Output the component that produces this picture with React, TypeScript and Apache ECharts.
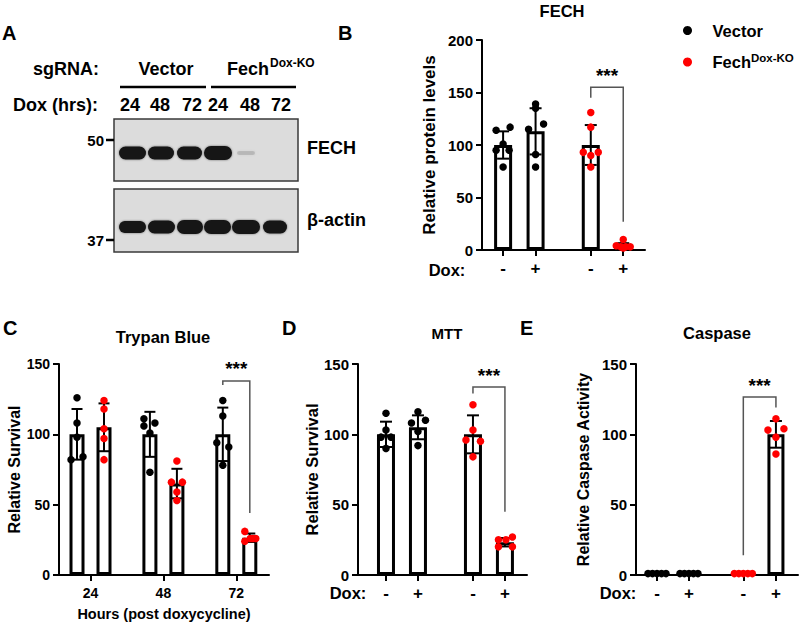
import React, { useEffect, useRef } from 'react';
import * as echarts from 'echarts';

const FONT = '"Liberation Sans", Arial, Helvetica, sans-serif';
const RED = '#ff0000';

// ---------- Panel A (western blot) ----------
const blotLaneLabels = ['24', '48', '72', '24', '48', '72'];
const fechBandIntensity = [1, 1, 1, 1, 0.12, 0];
const actinBandIntensity = [1, 1, 1, 1, 1, 1];

// ---------- Panel B (FECH) ----------
const bPositions = [1, 2, 3.7, 4.7];
const bTickLabels = ['-', '+', '-', '+'];
const bGroups = ['Vector', 'Vector', 'Fech', 'Fech'];
const bMeans = [100, 113, 100, 4];
const bSds = [13, 22, 19, 2.5];
const bPoints = [
  [114, 117, 101, 95, 95, 79],
  [139, 135, 120, 115, 91, 79],
  [131, 117, 93, 93, 90, 79],
  [10, 4, 3, 3, 3, 2],
];
const bJitter = [
  [-7, 7, 0, -7, 6, 0],
  [0, 0, 8, -7, 0, 0],
  [0, 0, -7.5, 7.5, 0, 0],
  [0, -7, -2.5, 2.5, 7, 0],
];

// ---------- Panel C (Trypan Blue) ----------
const cPositions = [1, 2, 3.7, 4.7, 6.4, 7.4];
const cTickValues = [1.5, 4.2, 6.9];
const cTickLabels = ['24', '48', '72'];
const cGroups = ['Vector', 'Fech', 'Vector', 'Fech', 'Vector', 'Fech'];
const cMeans = [100, 105, 100, 65, 100, 26.5];
const cSds = [18, 17, 16, 10.5, 19, 3];
const cPoints = [
  [126, 108, 98, 82, 84],
  [124, 118, 104, 97, 82],
  [111, 108, 106, 101, 73],
  [81, 66, 66, 59, 53],
  [124, 113, 94, 91, 78],
  [31, 24, 26, 26, 26],
];
const cJitter = [
  [0, 0, 0, -6, 6],
  [0, 0, 0, 0, 0],
  [-6, 5, -6, 0, 0],
  [0, -5.5, 5.5, 0, 0],
  [0, 0, -6, 6, 0],
  [-5, -5, 0.5, 6, 3],
];

// ---------- Panel D (MTT) ----------
const dPositions = [1, 2, 3.72, 4.72];
const dTickLabels = ['-', '+', '-', '+'];
const dGroups = ['Vector', 'Vector', 'Fech', 'Fech'];
const dMeans = [100, 105, 100, 23.3];
const dSds = [9, 8.5, 13.5, 3];
const dPoints = [
  [115, 103, 98, 98, 90],
  [116, 108, 110, 102, 92],
  [121, 103, 96, 95, 84],
  [25, 25, 27, 20, 20],
];
const dJitter = [
  [0, 0, -5, 5, 0],
  [0, -6.5, 7.5, 0, 0],
  [0, 0, -7, 7.5, 0],
  [-6.5, 1, 7.5, -6.5, 7.5],
];

// ---------- Panel E (Caspase) ----------
const ePositions = [1, 2, 3.7, 4.72];
const eTickLabels = ['-', '+', '-', '+'];
const eGroups = ['Vector', 'Vector', 'Fech', 'Fech'];
const eMeans = [1, 1, 1, 100];
const eSds = [0, 0, 0, 9.5];
const ePoints = [
  [1, 1, 1, 1, 1],
  [1, 1, 1, 1, 1],
  [1, 1, 1, 1, 1],
  [111, 103, 104, 98, 86],
];
const eJitter = [
  [-9, -4.5, 0, 4.5, 9],
  [-9, -4.5, 0, 4.5, 9],
  [-9, -4.5, 0, 4.5, 9],
  [0, -8, 8, 0, 0],
];

// Significance brackets: [x1, x2, yTop, yLeftEnd, yRightEnd, yText]
const bBracket = [3.7, 4.7, 155, 145, 27, 166];
const cBracket = [6.4, 7.4, 138, 135, 44, 147];
const dBracket = [3.72, 4.72, 133.6, 129, 45, 142];
const eBracket = [3.7, 4.72, 126.5, 14, 119, 135];

const panels = [
  {
    grid: { left: 482, top: 40, width: 163, height: 210 },
    xMin: 0.35, xMax: 5.37, yMax: 200,
    positions: bPositions, tickValues: bPositions, tickLabels: bTickLabels,
    groups: bGroups, means: bMeans, sds: bSds, points: bPoints, jitter: bJitter,
    yName: 'Relative protein levels', yNameGap: 44, yNameSize: 17,
    barWidth: 18, cap: 6, bracket: bBracket, xLabelSize: 17, xLabelMargin: 10,
    yLabelSize: 15,
  },
  {
    grid: { left: 59, top: 364, width: 210, height: 211 },
    xMin: 0.333, xMax: 8.111, yMax: 150,
    positions: cPositions, tickValues: cTickValues, tickLabels: cTickLabels,
    groups: cGroups, means: cMeans, sds: cSds, points: cPoints, jitter: cJitter,
    yName: 'Relative Survival', yNameGap: 36, yNameSize: 16,
    barWidth: 15, cap: 5.5, bracket: cBracket, xLabelSize: 14, xLabelMargin: 11,
    xName: 'Hours (post doxycycline)', yLabelSize: 14,
  },
  {
    grid: { left: 358, top: 364, width: 169, height: 211 },
    xMin: 0.125, xMax: 5.41, yMax: 150,
    positions: dPositions, tickValues: dPositions, tickLabels: dTickLabels,
    groups: dGroups, means: dMeans, sds: dSds, points: dPoints, jitter: dJitter,
    yName: 'Relative Survival', yNameGap: 38, yNameSize: 16.5,
    barWidth: 18, cap: 6, bracket: dBracket, xLabelSize: 17, xLabelMargin: 10,
    yLabelSize: 15,
  },
  {
    grid: { left: 636, top: 364, width: 162, height: 211 },
    xMin: 0.344, xMax: 5.41, yMax: 150,
    positions: ePositions, tickValues: ePositions, tickLabels: eTickLabels,
    groups: eGroups, means: eMeans, sds: eSds, points: ePoints, jitter: eJitter,
    yName: 'Relative Caspase Activity', yNameGap: 45, yNameSize: 16,
    barWidth: 17, cap: 6, bracket: eBracket, xLabelSize: 17, xLabelMargin: 10,
    yLabelSize: 15,
  },
];

const txt = (text: string, x: number, y: number, size: number, align = 'left', extra: any = {}) => ({
  type: 'text',
  x,
  y,
  z: 10,
  style: {
    text,
    fontSize: size,
    fontWeight: 'bold',
    fontFamily: FONT,
    fill: '#000',
    align,
    verticalAlign: 'middle',
    ...extra,
  },
});

function blotGraphics() {
  const g: any[] = [];
  const laneX = [130, 160, 192, 218, 250, 281];
  g.push(txt('sgRNA:', 33, 69, 18));
  g.push(txt('Vector', 166, 69, 18, 'center'));
  g.push(txt('Fech', 227, 69, 18));
  g.push(txt('Dox-KO', 270, 63, 12));
  g.push({ type: 'line', shape: { x1: 120, y1: 87, x2: 206, y2: 87 }, style: { stroke: '#000', lineWidth: 2.5 } });
  g.push({ type: 'line', shape: { x1: 211, y1: 87, x2: 296, y2: 87 }, style: { stroke: '#000', lineWidth: 2.5 } });
  g.push(txt('Dox (hrs):', 13, 105, 18));
  blotLaneLabels.forEach((l, i) => g.push(txt(l, laneX[i], 105, 18, 'center')));

  // blot boxes
  g.push({ type: 'rect', shape: { x: 114, y: 119, width: 184, height: 62 }, style: { fill: '#dcdcdc', stroke: '#3a3a3a', lineWidth: 1.5 } });
  g.push({ type: 'rect', shape: { x: 114, y: 189, width: 184, height: 63 }, style: { fill: '#dcdcdc', stroke: '#3a3a3a', lineWidth: 1.5 } });

  const fechCx = [132.5, 161, 189.5, 218, 246, 275];
  const fechW = [27, 26, 25, 28, 18, 18];
  const fechH = [13, 13, 13, 14, 4, 4];
  fechBandIntensity.forEach((v, i) => {
    if (v <= 0) return;
    g.push({
      type: 'rect',
      shape: { x: fechCx[i] - fechW[i] / 2, y: 153 - fechH[i] / 2, width: fechW[i], height: fechH[i], r: fechH[i] / 2 },
      style: { fill: '#141414', opacity: v, shadowBlur: 2, shadowColor: 'rgba(0,0,0,0.5)' },
    });
  });
  const actCx = [132.5, 161.5, 190, 217.5, 246, 275];
  const actW = [27, 27, 26, 27, 28, 24];
  const actH = [12, 13, 14, 14, 14, 13];
  actinBandIntensity.forEach((v, i) => {
    if (v <= 0) return;
    g.push({
      type: 'rect',
      shape: { x: actCx[i] - actW[i] / 2, y: 227 - actH[i] / 2, width: actW[i], height: actH[i], r: actH[i] / 2 },
      style: { fill: '#141414', opacity: v, shadowBlur: 2, shadowColor: 'rgba(0,0,0,0.5)' },
    });
  });
  // markers
  g.push(txt('50', 104, 140, 15, 'right'));
  g.push({ type: 'line', shape: { x1: 106, y1: 140, x2: 114, y2: 140 }, style: { stroke: '#000', lineWidth: 2.5 } });
  g.push(txt('37', 104, 240, 15, 'right'));
  g.push({ type: 'line', shape: { x1: 106, y1: 240, x2: 114, y2: 240 }, style: { stroke: '#000', lineWidth: 2.5 } });
  g.push(txt('FECH', 307, 148, 18));
  g.push(txt('β-actin', 307, 220, 18));
  return g;
}

function buildOption() {
  const grid: any[] = [];
  const xAxis: any[] = [];
  const yAxis: any[] = [];
  const series: any[] = [];

  panels.forEach((p, i) => {
    grid.push({ ...p.grid, containLabel: false });
    const unitPx = p.grid.width / (p.xMax - p.xMin);
    xAxis.push({
      type: 'value',
      gridIndex: i,
      min: p.xMin,
      max: p.xMax,
      axisLine: { show: true, onZero: false, lineStyle: { color: '#000', width: 2 } },
      axisTick: { show: true, customValues: p.tickValues, length: 6, lineStyle: { color: '#000', width: 2 } },
      axisLabel: {
        show: true,
        customValues: p.tickValues,
        margin: p.xLabelMargin,
        fontSize: p.xLabelSize,
        fontWeight: 'bold',
        fontFamily: FONT,
        color: '#000',
        formatter: (v: number) => {
          const k = p.tickValues.findIndex((t) => Math.abs(t - v) < 1e-6);
          return k >= 0 ? p.tickLabels[k] : '';
        },
      },
      splitLine: { show: false },
      name: (p as any).xName || '',
      nameLocation: 'middle',
      nameGap: 31,
      nameTextStyle: { fontSize: 14.5, fontWeight: 'bold', fontFamily: FONT, color: '#000' },
    });
    yAxis.push({
      type: 'value',
      gridIndex: i,
      min: 0,
      max: p.yMax,
      interval: 50,
      axisLine: { show: true, onZero: false, lineStyle: { color: '#000', width: 2 } },
      axisTick: { show: true, length: 6, lineStyle: { color: '#000', width: 2 } },
      axisLabel: { margin: 9, fontSize: p.yLabelSize, fontWeight: 'bold', fontFamily: FONT, color: '#000' },
      splitLine: { show: false },
      name: p.yName,
      nameLocation: 'middle',
      nameGap: p.yNameGap,
      nameTextStyle: { fontSize: p.yNameSize, fontWeight: 'bold', fontFamily: FONT, color: '#000' },
    });

    series.push({
      type: 'bar',
      xAxisIndex: i,
      yAxisIndex: i,
      barWidth: p.barWidth,
      z: 2,
      itemStyle: { color: '#fff', borderColor: '#000', borderWidth: 3 },
      data: p.positions.map((x, k) => [x, p.means[k]]),
    });

    series.push({
      type: 'custom',
      xAxisIndex: i,
      yAxisIndex: i,
      z: 3,
      renderItem: (params: any, api: any) => {
        const x = api.value(0);
        const lo = api.value(1);
        const hi = api.value(2);
        if (hi - lo <= 0) return null;
        const top = api.coord([x, hi]);
        const bot = api.coord([x, lo]);
        const st = { stroke: '#000', lineWidth: 2 };
        const c = p.cap;
        return {
          type: 'group',
          children: [
            { type: 'line', shape: { x1: top[0], y1: top[1], x2: bot[0], y2: bot[1] }, style: st },
            { type: 'line', shape: { x1: top[0] - c, y1: top[1], x2: top[0] + c, y2: top[1] }, style: st },
            { type: 'line', shape: { x1: bot[0] - c, y1: bot[1], x2: bot[0] + c, y2: bot[1] }, style: st },
          ],
        };
      },
      data: p.positions.map((x, k) => [x, p.means[k] - p.sds[k], p.means[k] + p.sds[k]]),
    });

    ['Vector', 'Fech'].forEach((name) => {
      const data: number[][] = [];
      p.positions.forEach((x, k) => {
        if (p.groups[k] !== name) return;
        p.points[k].forEach((v, j) => data.push([x + p.jitter[k][j] / unitPx, v]));
      });
      series.push({
        type: 'scatter',
        name,
        xAxisIndex: i,
        yAxisIndex: i,
        z: 4,
        symbol: 'circle',
        symbolSize: 7.5,
        itemStyle: { color: name === 'Vector' ? '#000' : RED, opacity: 1 },
        data,
      });
    });

    series.push({
      type: 'custom',
      xAxisIndex: i,
      yAxisIndex: i,
      z: 5,
      renderItem: (params: any, api: any) => {
        const x1 = api.value(0);
        const x2 = api.value(1);
        const yTop = api.value(2);
        const pL = api.coord([x1, api.value(3)]);
        const pTL = api.coord([x1, yTop]);
        const pTR = api.coord([x2, yTop]);
        const pR = api.coord([x2, api.value(4)]);
        const pT = api.coord([(x1 + x2) / 2, api.value(5)]);
        return {
          type: 'group',
          children: [
            { type: 'polyline', shape: { points: [pL, pTL, pTR, pR] }, style: { stroke: '#555', lineWidth: 1.5, fill: null } },
            {
              type: 'text',
              x: pT[0],
              y: pT[1],
              style: { text: '***', fontSize: 19, fontWeight: 'bold', fontFamily: FONT, fill: '#000', align: 'center', verticalAlign: 'middle' },
            },
          ],
        };
      },
      data: [p.bracket],
    });
  });

  const graphic: any[] = [
    txt('A', 2, 33, 20),
    txt('B', 338, 33, 20),
    txt('C', 3, 328, 20),
    txt('D', 282, 328, 20),
    txt('E', 520, 328, 20),
    txt('FECH', 562, 11, 16.5, 'center'),
    txt('Trypan Blue', 163, 337, 16.5, 'center'),
    txt('MTT', 447, 333, 15, 'center'),
    txt('Caspase', 717, 333, 16.5, 'center'),
    txt('Dox:', 447, 270, 16.5, 'center'),
    txt('Dox:', 348, 593, 16.5, 'center'),
    txt('Dox:', 618, 593, 16.5, 'center'),
    ...blotGraphics(),
  ];

  return {
    animation: false,
    backgroundColor: '#fff',
    grid,
    xAxis,
    yAxis,
    series,
    graphic,
    legend: {
      orient: 'vertical',
      left: 678,
      top: 17,
      itemWidth: 40,
      itemHeight: 9,
      itemGap: 13,
      selectedMode: false,
      data: ['Vector', 'Fech'],
      itemStyle: { opacity: 1 },
      formatter: (n: string) => (n === 'Fech' ? '{a|Fech}{s|Dox-KO}' : '{a|Vector}'),
      textStyle: {
        rich: {
          a: { fontSize: 16.5, fontWeight: 'bold', fontFamily: FONT, color: '#000', lineHeight: 20 },
          s: { fontSize: 11.5, fontWeight: 'bold', fontFamily: FONT, color: '#000', verticalAlign: 'top', lineHeight: 12 },
        },
      },
    },
  };
}

export default function App() {
  const ref = useRef<HTMLDivElement>(null);
  useEffect(() => {
    const chart = echarts.init(ref.current!, null, { renderer: 'svg' });
    chart.setOption(buildOption() as any);
    return () => chart.dispose();
  }, []);
  return (
    <div
      ref={ref}
      style={{ position: 'fixed', left: 0, top: 0, width: 800, height: 623, background: '#fff' }}
    />
  );
}
